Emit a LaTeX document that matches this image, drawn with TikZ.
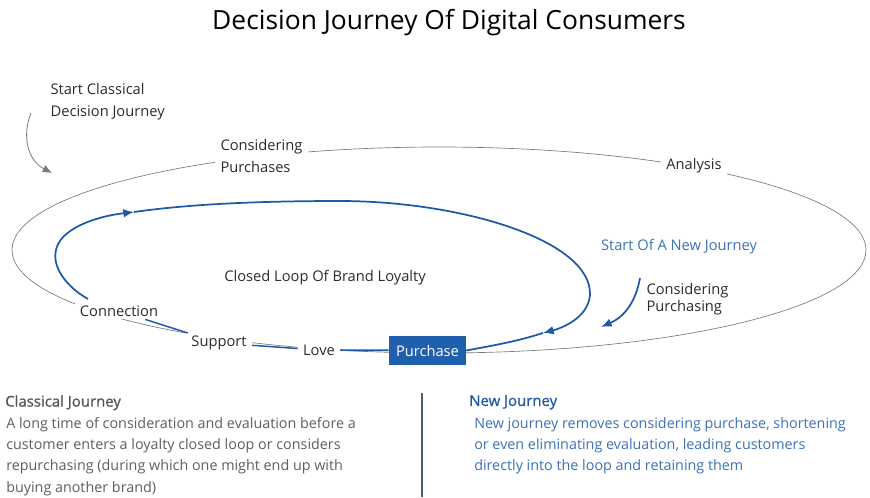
\documentclass[tikz,border=0pt]{standalone}
\usepackage{fontspec}
\setmainfont{Open Sans}
\newfontfamily\headfont{Open Sans}[FakeBold=0.9]
\usetikzlibrary{arrows.meta}
\definecolor{loopblue}{HTML}{1C5AA8}
\definecolor{boxblue}{HTML}{1F5FAE}
\definecolor{textblue}{HTML}{3A72B6}
\definecolor{headblue}{HTML}{1F5AA6}
\definecolor{darktext}{HTML}{2B2B2B}
\definecolor{greytext}{HTML}{5E5E5E}
\definecolor{ringgrey}{HTML}{7A7A7A}
\definecolor{divider}{HTML}{4A5F7A}
\tikzset{
  lbl/.style={font=\fontsize{11}{16.7}\selectfont, text=darktext, align=left, inner sep=1pt},
  gaplbl/.style={lbl, fill=white, inner xsep=4pt, inner ysep=2pt},
  bluelbl/.style={lbl, text=textblue},
  bodytxt/.style={font=\fontsize{10.75}{16}\selectfont, text=greytext, align=left, inner sep=0pt, anchor=north west},
  bodyblue/.style={bodytxt, text=textblue},
  headtxt/.style={bodytxt, font=\headfont\fontsize{11.2}{14}\selectfont},
  loopline/.style={draw=loopblue, line width=1.3pt},
  ring/.style={draw=ringgrey, line width=0.5pt},
  tipblue/.style={-{Latex[length=8pt,width=6.5pt]}},
  tipgrey/.style={-{Latex[length=7pt,width=6pt]}},
}
\begin{document}
\begin{tikzpicture}[x=0.75pt,y=-0.75pt]
\useasboundingbox (0,0) rectangle (870,497);
% title
\node[font=\fontsize{19.8}{24}\selectfont, text=black] (title) at (449,23) {Decision Journey Of Digital Consumers};
% outer ring
\draw[ring] (439,250) ellipse [x radius=427, y radius=103];
% labels
\node[lbl, anchor=west] (start) at (49,102) {Start Classical\\Decision Journey};
\node[gaplbl, anchor=west] (consid) at (215,156) {Considering\\Purchases};
\node[gaplbl] (analysis) at (694,166) {Analysis};
\node[lbl] (closed) at (325,278) {Closed Loop Of Brand Loyalty};
\node[bluelbl] (newstart) at (679,247) {Start Of A New Journey};
\node[lbl, anchor=west, font=\fontsize{11}{13}\selectfont] (conspur) at (645,299) {Considering\\Purchasing};
\node[gaplbl] (connection) at (119,311) {Connection};
\node[gaplbl] (support) at (219,343) {Support};
\node[gaplbl] (love) at (319,350) {Love};
\node[lbl, fill=boxblue, text=white, minimum width=57.75pt, minimum height=21.75pt, inner sep=0pt] (purchase) at (427.5,350.5) {Purchase};
% grey start arrow
\coordinate (ga1) at (31,113);
\coordinate (ga2) at (52,173);
\draw[ringgrey, line width=0.6pt, tipgrey] (ga1) .. controls (22,135) and (27,160) .. (ga2);
% blue loop
\coordinate (l1) at (88,299);
\coordinate (l2) at (56,250);
\coordinate (l3) at (134,212);
\coordinate (l4) at (340,201);
\coordinate (l5) at (590,295);
\coordinate (l6) at (543,333);
\draw[loopline, tipblue] (l1) .. controls (65,286) and (52,266) .. (l2) .. controls (60,230) and (92,217) .. (l3);
\draw[loopline, tipblue] (l3) .. controls (190,204) and (260,201) .. (l4) .. controls (460,201) and (592,240) .. (l5) .. controls (588,318) and (562,328) .. (l6);
\draw[loopline] (l6) .. controls (515,342) and (490,346) .. (purchase.east);
\draw[loopline] (purchase) -- (love);
\draw[loopline, line width=1.1pt] (love) -- (support);
\draw[loopline, line width=1.1pt] (support) -- (connection);
% new journey arrow
\coordinate (na1) at (640,278);
\coordinate (na2) at (601,327);
\draw[loopline, tipblue] (na1) .. controls (636,300) and (626,316) .. (na2);
% bottom panels
\node[headtxt, text=greytext!90!black] (classhead) at (5,395) {Classical Journey};
\node[bodytxt] (classbody) at (6,417) {A long time of consideration and evaluation before a\\customer enters a loyalty closed loop or considers\\repurchasing (during which one might end up with\\buying another brand)};
\coordinate (d1) at (422,393);
\coordinate (d2) at (422,497);
\draw[divider, line width=0.8pt] (d1) -- (d2);
\node[headtxt, text=headblue] (newhead) at (469,395) {New Journey};
\node[bodyblue] (newbody) at (474,417) {New journey removes considering purchase, shortening\\or even eliminating evaluation, leading customers\\directly into the loop and retaining them};
\end{tikzpicture}
\end{document}
